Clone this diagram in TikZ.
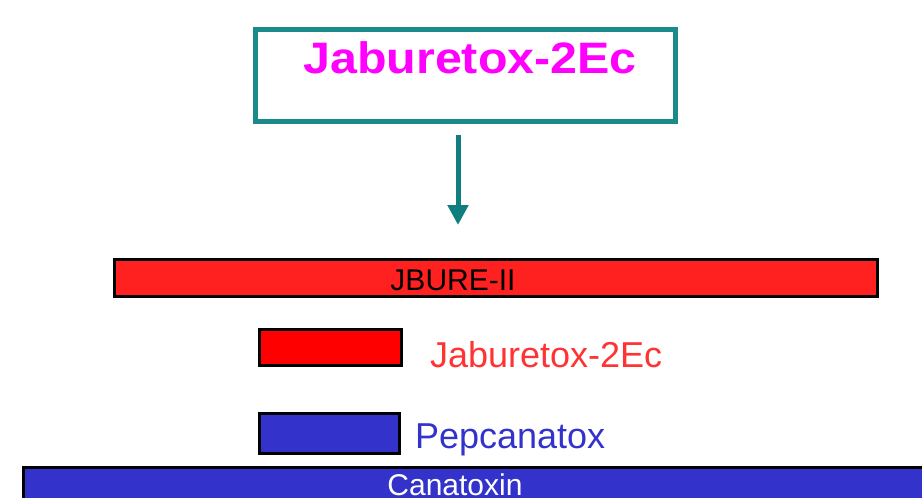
\documentclass[tikz,border=0pt]{standalone}
\usepackage{fontspec}
\setmainfont{Liberation Sans}
\usetikzlibrary{arrows.meta}
\definecolor{tealframe}{RGB}{26,138,138}
\definecolor{tealarrow}{RGB}{16,126,126}
\definecolor{barred}{RGB}{255,32,32}
\definecolor{boxred}{RGB}{255,0,0}
\definecolor{labelred}{RGB}{255,51,51}
\definecolor{protblue}{RGB}{51,51,204}
\definecolor{titlemagenta}{RGB}{255,0,255}
\tikzset{
  x=1pt, y=-1pt,
  bar/.style={draw=black, line width=3pt, inner sep=0pt, outer sep=0pt},
  lbl/.style={inner sep=0pt, outer sep=0pt},
}
\begin{document}
\begin{tikzpicture}
  \clip (0,0) rectangle (922,498);

  % title frame and its label
  \node[draw=tealframe, line width=5pt, minimum width=420pt, minimum height=92pt,
        inner sep=0pt] (frame) at (465.5,75.5) {};
  \node[lbl, anchor=base, text=titlemagenta] (title) at (470,73)
    {\scalebox{1.1}[1]{\fontsize{44}{44}\selectfont\bfseries Jaburetox-2Ec}};

  % arrow down to the full-length protein
  \coordinate (astart) at (458,135);
  \coordinate (aend) at (458,225);
  \draw[tealarrow, line width=5pt, -{Triangle[width=20pt,length=20pt]}] (astart) -- (aend);

  % JBURE-II bar
  \node[bar, fill=barred, minimum width=763pt, minimum height=37pt] (jbure) at (496,278) {};
  \node[lbl, anchor=base] (jburetext) at (453,290) {\fontsize{30}{30}\selectfont JBURE-II};

  % Jaburetox-2Ec fragment
  \node[bar, fill=boxred, minimum width=142pt, minimum height=36pt] (jbox) at (330.5,347.5) {};
  \node[lbl, anchor=base west, text=labelred] (jtext) at (430,367)
    {\fontsize{36}{36}\selectfont Jaburetox-2Ec};

  % Pepcanatox fragment
  \node[bar, fill=protblue, minimum width=140pt, minimum height=40pt] (pbox) at (329.5,433.5) {};
  \node[lbl, anchor=base west, text=protblue] (ptext) at (415,448)
    {\fontsize{36}{36}\selectfont Pepcanatox};

  % Canatoxin bar
  \node[bar, fill=protblue, minimum width=920pt, minimum height=60pt, anchor=north west]
    (canatoxin) at (23.5,467.5) {};
  \node[lbl, anchor=base, text=white] (ctext) at (455,495)
    {\fontsize{30}{30}\selectfont Canatoxin};
\end{tikzpicture}
\end{document}
